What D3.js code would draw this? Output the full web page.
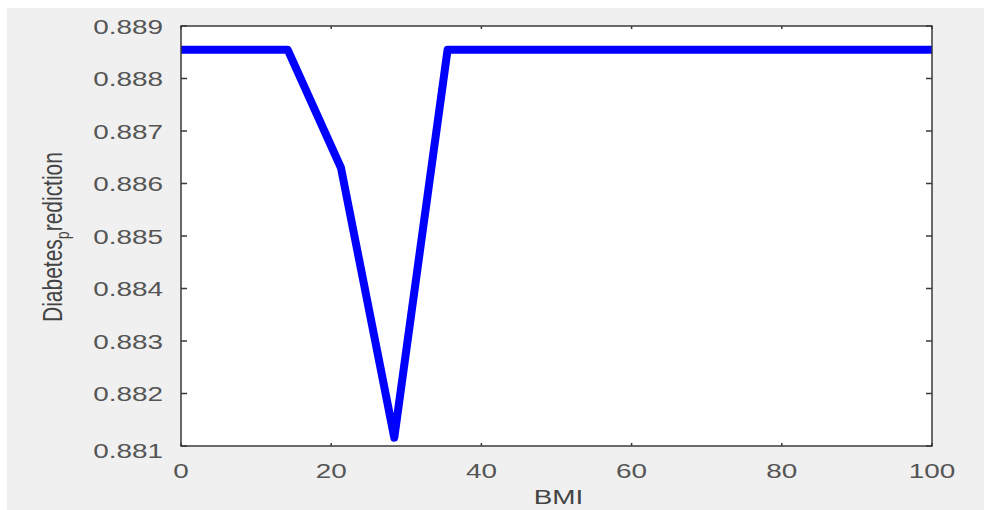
<!DOCTYPE html>
<html>
<head>
    <title>Diabetes prediction vs BMI</title>
    <script src="https://cdn.jsdelivr.net/npm/d3@7"></script>
    <style>
        body { margin: 0; background: #fff; }
        svg text { font-family: "Liberation Sans", Arial, sans-serif; fill: #555; }
    </style>
</head>
<body>
    <div id="chart"></div>
    <script>
        // data
        var bmi = [0, 14.2, 21.3, 28.4, 35.5, 100];
        var prediction = [0.88855, 0.88855, 0.8863, 0.88116, 0.88855, 0.88855];
        var xTicks = [0, 20, 40, 60, 80, 100];
        var yTicks = [0.881, 0.882, 0.883, 0.884, 0.885, 0.886, 0.887, 0.888, 0.889];

        var width = 984, height = 510;
        var margin = {top: 26, right: 52, bottom: 64, left: 181};
        var stretch = 1.33; // the reference text is wider than it is tall

        var svg = d3.select("#chart").append("svg")
            .attr("width", width)
            .attr("height", height);

        // grey figure background
        svg.append("rect")
            .attr("x", 7).attr("y", 8)
            .attr("width", width - 7).attr("height", height - 8)
            .attr("fill", "#f0f0f0");

        var x = d3.scaleLinear().domain([0, 100]).range([margin.left, width - margin.right]);
        var y = d3.scaleLinear().domain([0.881, 0.889]).range([height - margin.bottom, margin.top]);

        // white plot area
        svg.append("rect")
            .attr("x", x(0)).attr("y", y(0.889))
            .attr("width", x(100) - x(0)).attr("height", y(0.881) - y(0.889))
            .attr("fill", "#fff");

        var line = d3.line()
            .x((d, i) => x(bmi[i]))
            .y(d => y(d));

        svg.append("path")
            .datum(prediction)
            .attr("d", line)
            .attr("fill", "none")
            .attr("stroke", "#0000ff")
            .attr("stroke-width", 8)
            .attr("stroke-linejoin", "round");

        // inward ticks on all four sides, as in the box
        var axisColor = "#3a3a3a";
        var ticks = svg.append("g").attr("stroke", axisColor).attr("stroke-width", 1.5);
        yTicks.forEach(function (t) {
            ticks.append("line").attr("x1", x(0)).attr("x2", x(0) + 6).attr("y1", y(t)).attr("y2", y(t));
            ticks.append("line").attr("x1", x(100)).attr("x2", x(100) - 6).attr("y1", y(t)).attr("y2", y(t));
        });
        xTicks.forEach(function (t) {
            ticks.append("line").attr("x1", x(t)).attr("x2", x(t)).attr("y1", y(0.881)).attr("y2", y(0.881) - 3);
            ticks.append("line").attr("x1", x(t)).attr("x2", x(t)).attr("y1", y(0.889)).attr("y2", y(0.889) + 3);
        });

        // axis box
        svg.append("rect")
            .attr("x", x(0)).attr("y", y(0.889))
            .attr("width", x(100) - x(0)).attr("height", y(0.881) - y(0.889))
            .attr("fill", "none")
            .attr("stroke", axisColor)
            .attr("stroke-width", 1.5);

        // tick labels
        var fmt = d3.format(".3f");
        svg.selectAll(".ylab")
            .data(yTicks)
            .enter().append("text")
            .attr("class", "ylab")
            .attr("transform", d => "translate(" + 163 + "," + (y(d) + (d === 0.881 ? 4 : 0)) + ") scale(" + stretch + ",1)")
            .attr("text-anchor", "end")
            .attr("dy", "0.36em")
            .attr("font-size", 21)
            .text(d => fmt(d));

        svg.selectAll(".xlab")
            .data(xTicks)
            .enter().append("text")
            .attr("class", "xlab")
            .attr("transform", d => "translate(" + x(d) + "," + 470 + ") scale(" + stretch + ",1)")
            .attr("text-anchor", "middle")
            .attr("dy", "0.36em")
            .attr("font-size", 21)
            .text(d => d);

        // axis titles
        svg.append("text")
            .attr("transform", "translate(" + (x(50) + 2) + ",496) scale(" + stretch + ",1)")
            .attr("text-anchor", "middle")
            .attr("dy", "0.36em")
            .attr("font-size", 21)
            .style("fill", "#444")
            .text("BMI");

        var ylabel = svg.append("text")
            .attr("transform", "translate(62,237) scale(" + stretch + ",1) rotate(-90)")
            .attr("text-anchor", "middle")
            .attr("font-size", 21)
            .style("fill", "#444");
        ylabel.append("tspan").text("Diabetes");
        ylabel.append("tspan").attr("font-size", 14).attr("dy", 5).text("p");
        ylabel.append("tspan").attr("dy", -5).text("rediction");
    </script>
</body>
</html>
